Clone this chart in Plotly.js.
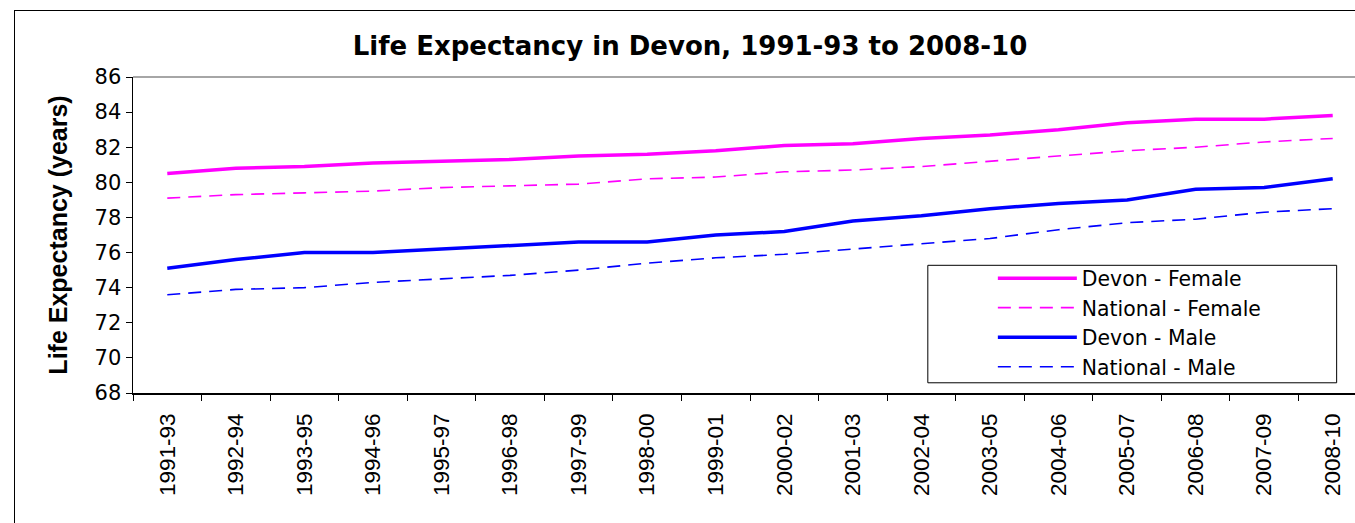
<!DOCTYPE html>
<html>
<head>
<meta charset="utf-8">
<script src="https://cdn.plot.ly/plotly-3.0.1.min.js"></script>
<style>
html,body{margin:0;padding:0;overflow:hidden;background:#fff;width:1355px;height:523px;}
#chart{position:absolute;left:0;top:0;}
#frame{position:absolute;left:14px;top:10px;width:2000px;height:2000px;border-left:1.5px solid #000;border-top:1.5px solid #000;pointer-events:none;}
</style>
</head>
<body>
<div id="chart"></div>
<div id="frame"></div>
<script>
const periods = ["1991-93","1992-94","1993-95","1994-96","1995-97","1996-98","1997-99","1998-00","1999-01","2000-02","2001-03","2002-04","2003-05","2004-06","2005-07","2006-08","2007-09","2008-10"];
const devonFemale    = [80.5,80.8,80.9,81.1,81.2,81.3,81.5,81.6,81.8,82.1,82.2,82.5,82.7,83.0,83.4,83.6,83.6,83.8];
const nationalFemale = [79.1,79.3,79.4,79.5,79.7,79.8,79.9,80.2,80.3,80.6,80.7,80.9,81.2,81.5,81.8,82.0,82.3,82.5];
const devonMale      = [75.1,75.6,76.0,76.0,76.2,76.4,76.6,76.6,77.0,77.2,77.8,78.1,78.5,78.8,79.0,79.6,79.7,80.2];
const nationalMale   = [73.6,73.9,74.0,74.3,74.5,74.7,75.0,75.4,75.7,75.9,76.2,76.5,76.8,77.3,77.7,77.9,78.3,78.5];
const seriesNames = ["Devon - Female","National - Female","Devon - Male","National - Male"];

const SANS = '"Liberation Sans", Arial, sans-serif';
const WIDE = '"DejaVu Sans", "Liberation Sans", sans-serif';
const traces = [
  {x: periods, y: devonFemale, name: seriesNames[0], mode:'lines', line:{color:'#FF00FF', width:3.5}},
  {x: periods, y: nationalFemale, name: seriesNames[1], mode:'lines', line:{color:'#FF00FF', width:1.6, dash:'13px,8px'}},
  {x: periods, y: devonMale, name: seriesNames[2], mode:'lines', line:{color:'#0000FF', width:3.5}},
  {x: periods, y: nationalMale, name: seriesNames[3], mode:'lines', line:{color:'#0000FF', width:1.6, dash:'13px,8px'}}
];

const layout = {
  width: 1380, height: 523,
  margin: {l: 132.6, r: 12.6, t: 76.7, b: 130.3},
  paper_bgcolor: 'rgba(0,0,0,0)', plot_bgcolor: '#fff',
  font: {family: SANS, color: '#000'},
  title: {text: '<b>Life Expectancy in Devon, 1991-93 to 2008-10</b>', font: {family: WIDE, size: 26, color:'#000'}, x: 0.5, xref: 'container', xanchor: 'center', y: 0.912, yref: 'container', yanchor: 'middle'},
  xaxis: {
    type: 'category', range: [-0.5, 17.5], showgrid: false, zeroline: false,
    showline: true, linecolor: '#000', linewidth: 1.5,
    ticks: 'outside', ticklen: 6, tickcolor: '#000', tickwidth: 1, tickson: 'boundaries',
    tickangle: -90, tickfont: {family: SANS, size: 22.5, color: '#000'}, automargin: false,
    ticklabelstandoff: 10
  },
  yaxis: {
    range: [68, 86], dtick: 2, tick0: 68, showgrid: false, zeroline: false,
    showline: true, linecolor: '#000', linewidth: 1.5,
    ticks: 'outside', ticklen: 6, tickcolor: '#000', tickwidth: 1,
    tickfont: {family: WIDE, size: 21, color: '#000'}, automargin: false,
    title: {text: '<b>Life Expectancy (years)</b>', font: {family: SANS, size: 25, color: '#000'}, standoff: 20}
  },
  shapes: [
    {type:'line', xref:'paper', yref:'paper', x0:0, x1:1, y0:1, y1:1, line:{color:'#888', width:1.5}},
    {type:'rect', xref:'paper', yref:'paper', x0:0.6441, x1:0.9754, y0:0.0323, y1:0.4041, layer:'above', fillcolor:'#fff', line:{color:'#000', width:1}}
  ],
  showlegend: true,
  legend: {
    x: 0.6968, y: 0.426, xanchor: 'left', yanchor: 'top',
    bgcolor: 'rgba(0,0,0,0)', borderwidth: 0,
    font: {family: WIDE, size: 20.4, color: '#000'},
    itemwidth: 79, tracegroupgap: 0
  }
};

Plotly.newPlot('chart', traces, layout, {displayModeBar: false, staticPlot: true});
</script>
</body>
</html>
